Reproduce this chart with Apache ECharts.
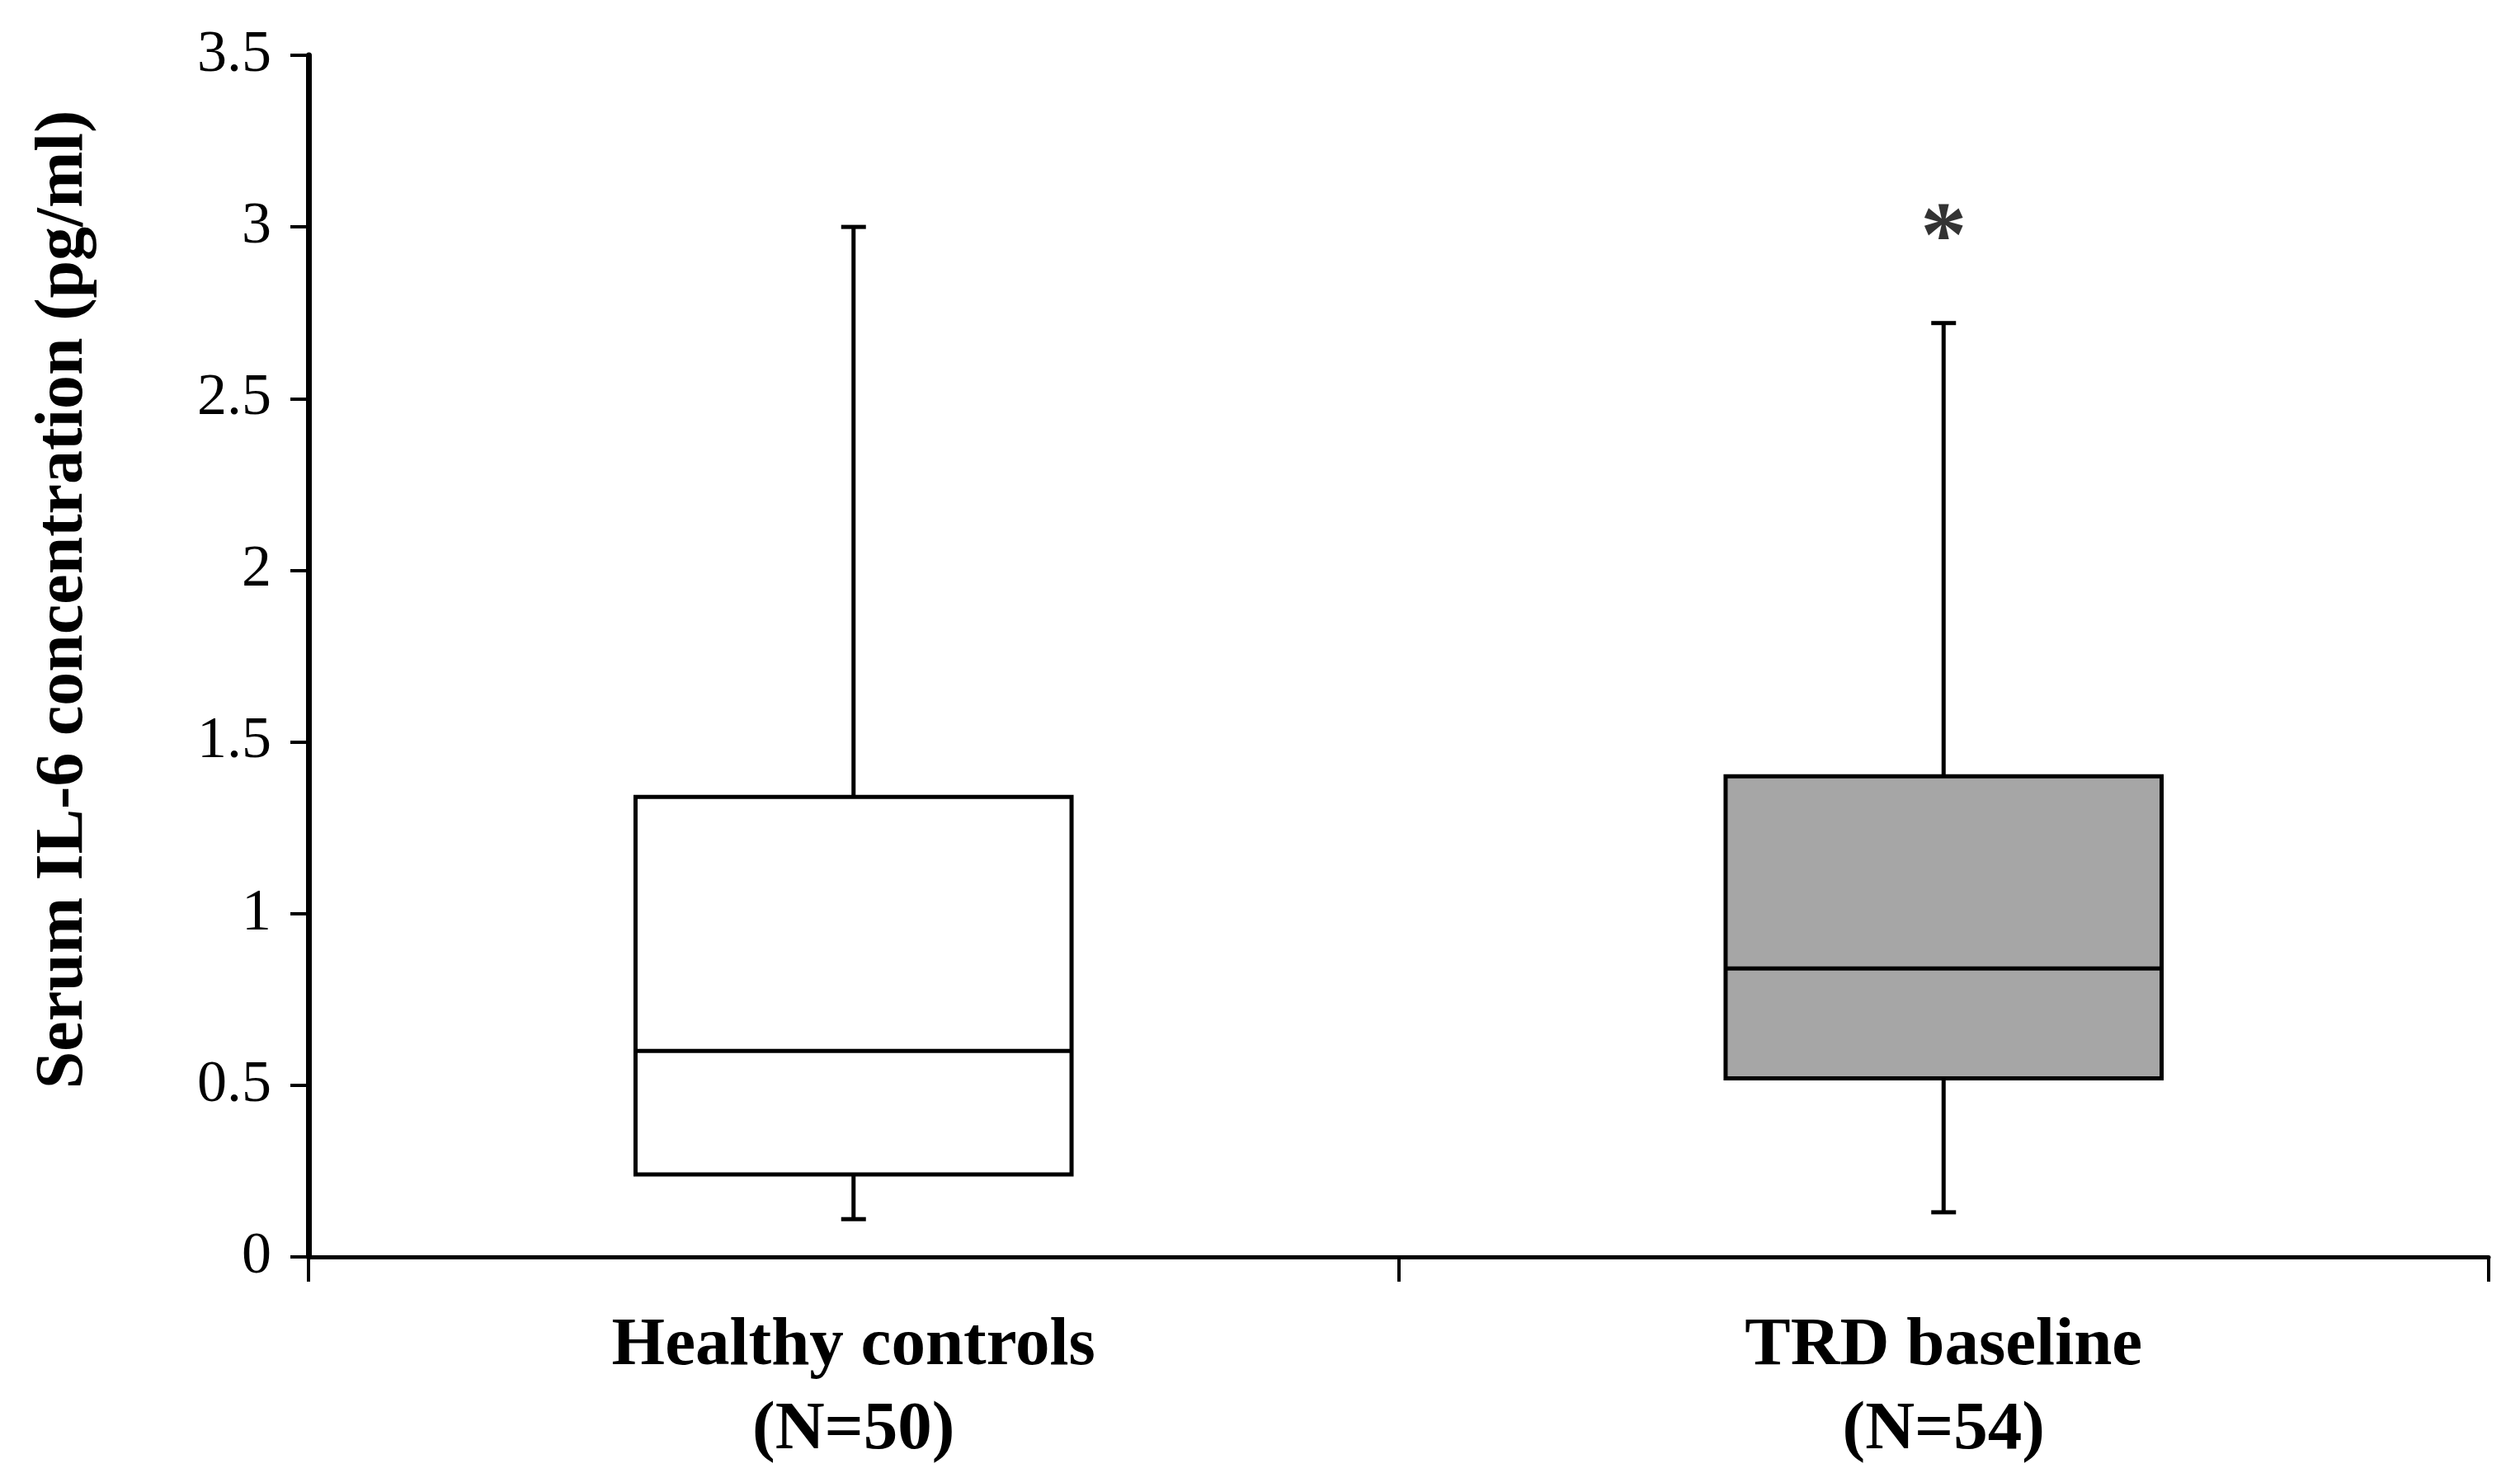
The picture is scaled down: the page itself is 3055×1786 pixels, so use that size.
<!DOCTYPE html>
<html><head><meta charset="utf-8">
<script src="https://cdn.jsdelivr.net/npm/echarts@6/dist/echarts.min.js"></script>
<style>html,body{margin:0;padding:0;background:#fff}#c{width:3055px;height:1786px}</style>
</head><body><div id="c"></div>
<script>
// ---- data ----
const categories = ['Healthy controls\n(N=50)', 'TRD baseline\n(N=54)'];
const whiskerLow  = [0.11, 0.13];
const q1          = [0.24, 0.52];
const median      = [0.60, 0.84];
const q3          = [1.34, 1.40];
const whiskerHigh = [3.00, 2.72];
const sigGroups   = [1];
const sigValues   = [3.0];
const sigMarks    = ['*'];
const yMin = 0, yMax = 3.5, yStep = 0.5;

// ---- styles ----
const boxFills = ['#ffffff', '#a6a6a6'];
const FONT = 'Liberation Serif';

const boxData = categories.map((c, i) => [i, whiskerLow[i], q1[i], median[i], q3[i], whiskerHigh[i]]);
const sigData = sigGroups.map((g, i) => [g, sigValues[i], sigMarks[i]]);

const chart = echarts.init(document.getElementById('c'));
chart.setOption({
  backgroundColor: '#fff',
  animation: false,
  grid: { left: 374, right: 38, top: 67, bottom: 257 },
  xAxis: {
    type: 'category', data: categories, boundaryGap: true,
    axisLine: { lineStyle: { color: '#000', width: 5 } },
    axisTick: { show: true, length: 30, lineStyle: { color: '#000', width: 4 } },
    axisLabel: { color: '#000', fontFamily: FONT, fontWeight: 'bold', fontSize: 83, lineHeight: 102, margin: 58 },
    splitLine: { show: false }
  },
  yAxis: {
    type: 'value', min: yMin, max: yMax, interval: yStep,
    axisLine: { show: true, lineStyle: { color: '#000', width: 7 } },
    axisTick: { show: true, length: 22, lineStyle: { color: '#000', width: 4 } },
    axisLabel: { color: '#000', fontFamily: FONT, fontSize: 72, margin: 45 },
    splitLine: { show: false }
  },
  graphic: [{
    type: 'text', x: 78, y: 727, rotation: Math.PI / 2,
    style: { text: 'Serum IL-6 concentration (pg/ml)', fontFamily: FONT, fontWeight: 'bold', fontSize: 82,
      fill: '#000', align: 'center', verticalAlign: 'middle' }
  }],
  series: [{
    type: 'custom',
    data: boxData,
    encode: { x: 0, y: [1, 2, 3, 4, 5] },
    renderItem: function (params, api) {
      const idx = api.value(0);
      const band = api.size([1, 0])[0];
      const half = band * 0.2;
      const capHalf = 15;
      const pMin = api.coord([idx, api.value(1)]);
      const pQ1 = api.coord([idx, api.value(2)]);
      const pMed = api.coord([idx, api.value(3)]);
      const pQ3 = api.coord([idx, api.value(4)]);
      const pMax = api.coord([idx, api.value(5)]);
      const x = pMed[0];
      const ls = { stroke: '#000', lineWidth: 5 };
      return {
        type: 'group',
        children: [
          { type: 'line', shape: { x1: x, y1: pQ3[1], x2: x, y2: pMax[1] }, style: ls },
          { type: 'line', shape: { x1: x - capHalf, y1: pMax[1], x2: x + capHalf, y2: pMax[1] }, style: ls },
          { type: 'line', shape: { x1: x, y1: pQ1[1], x2: x, y2: pMin[1] }, style: ls },
          { type: 'line', shape: { x1: x - capHalf, y1: pMin[1], x2: x + capHalf, y2: pMin[1] }, style: ls },
          { type: 'rect', shape: { x: x - half, y: pQ3[1], width: half * 2, height: pQ1[1] - pQ3[1] },
            style: { fill: boxFills[params.dataIndex], stroke: '#000', lineWidth: 5 } },
          { type: 'line', shape: { x1: x - half, y1: pMed[1], x2: x + half, y2: pMed[1] }, style: { stroke: '#000', lineWidth: 5 } }
        ]
      };
    }
  }, {
    type: 'scatter',
    data: sigData,
    symbolSize: 0,
    silent: true,
    label: { show: true, position: 'inside', offset: [0, 18], formatter: p => p.value[2], color: '#000',
      fontFamily: FONT, fontWeight: 'bold', fontSize: 112 }
  }]
});
</script></body></html>
